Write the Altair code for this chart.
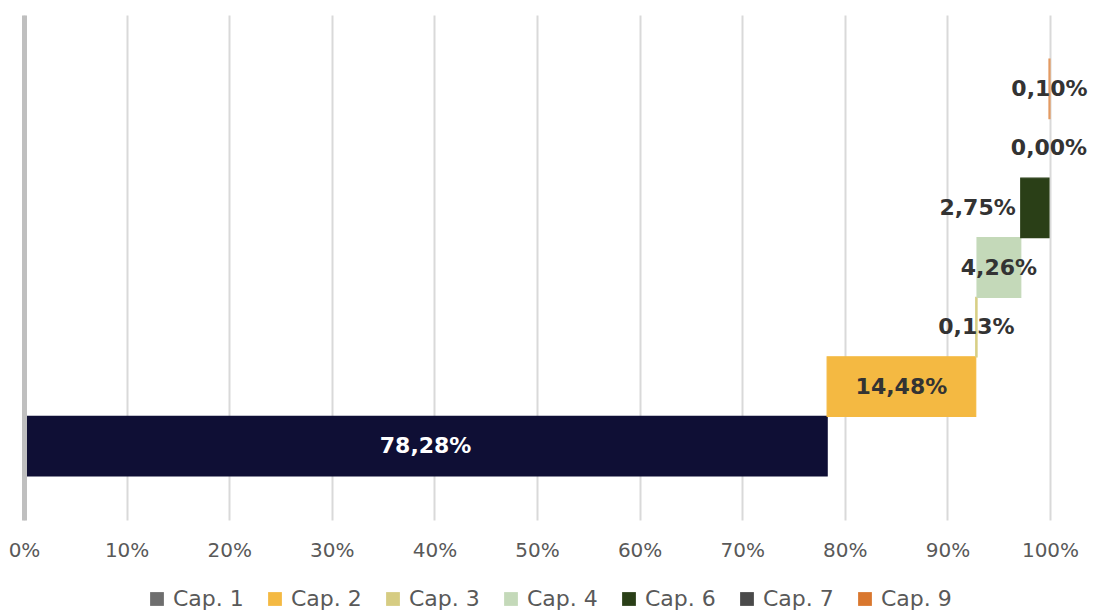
import altair as alt
import pandas as pd

categories = ["Cap. 1", "Cap. 2", "Cap. 3", "Cap. 4", "Cap. 6", "Cap. 7", "Cap. 9"]
values = [78.28, 14.48, 0.13, 4.26, 2.75, 0.00, 0.10]
bar_colors = ["#0F0F35", "#F4B942", "#D8CF86", "#C4D9B9", "#2A3F17", "#404040", "#E39A62"]
legend_colors = ["#6E6E6E", "#F4B942", "#D6CC82", "#C4D9B9", "#2A3F17", "#4A4A4A", "#D9772E"]
label_pos = ["center", "center", "center", "center", "left", "center", "center"]
label_colors = ["#FFFFFF", "#333333", "#333333", "#333333", "#333333", "#333333", "#333333"]
x_ticks = [0, 10, 20, 30, 40, 50, 60, 70, 80, 90, 100]

starts, ends = [], []
acc = 0.0
for v in values:
    starts.append(acc)
    acc += v
    ends.append(acc)

df = pd.DataFrame({
    "cat": categories,
    "value": values,
    "start": starts,
    "end": ends,
    "mid": [(s + e) / 2 for s, e in zip(starts, ends)],
    "label": [f"{v:.2f}".replace(".", ",") + "%" for v in values],
    "pos": label_pos,
    "tcolor": label_colors,
})

FONT = "DejaVu Sans"
order = list(reversed(categories))

xscale = alt.Scale(domain=[0, 100], nice=False, zero=True)
yscale = alt.Scale(domain=order, paddingInner=0, paddingOuter=0.74)

base = alt.Chart(df)

bars = base.mark_bar().encode(
    y=alt.Y("cat:N", scale=yscale, sort=order,
            axis=alt.Axis(title=None, labels=False, ticks=False, grid=False,
                          domain=True, domainColor="#BFBFBF", domainWidth=5, zindex=2)),
    x=alt.X("start:Q", scale=xscale,
            axis=alt.Axis(title=None, values=x_ticks, labelExpr="datum.value + '%'",
                          grid=True, gridColor="#D9D9D9", gridWidth=2,
                          domain=False, ticks=False, labelPadding=20, labelFlush=False,
                          labelFont=FONT, labelFontSize=20, labelColor="#595959")),
    x2="end:Q",
    color=alt.Color("cat:N", scale=alt.Scale(domain=categories, range=bar_colors), legend=None),
    stroke=alt.Color("cat:N", scale=alt.Scale(domain=categories, range=bar_colors), legend=None),
    strokeWidth=alt.condition(alt.datum.value > 0, alt.value(1.2), alt.value(0)),
)

text_center = base.transform_filter(alt.datum.pos == "center").mark_text(
    font=FONT, fontSize=22, fontWeight="bold", align="center", baseline="middle"
).encode(
    y=alt.Y("cat:N", scale=yscale, sort=order),
    x=alt.X("mid:Q", scale=xscale),
    text="label:N",
    color=alt.Color("tcolor:N", scale=None),
)

text_left = base.transform_filter(alt.datum.pos == "left").mark_text(
    font=FONT, fontSize=22, fontWeight="bold", align="right", baseline="middle", dx=-5
).encode(
    y=alt.Y("cat:N", scale=yscale, sort=order),
    x=alt.X("start:Q", scale=xscale),
    text="label:N",
    color=alt.Color("tcolor:N", scale=None),
)

legend_layer = base.mark_square(size=0).encode(
    x=alt.value(0),
    y=alt.value(0),
    color=alt.Color("cat:N", scale=alt.Scale(domain=categories, range=legend_colors),
                    legend=alt.Legend(title=None, orient="none", direction="horizontal",
                                      legendX=122, legendY=573, symbolType="square",
                                      symbolSize=190, symbolOpacity=1, symbolStrokeWidth=0,
                                      labelFont=FONT, labelFontSize=22, labelColor="#595959",
                                      labelOffset=5, columnPadding=20)),
)

chart = alt.layer(bars, text_center, text_left, legend_layer).resolve_scale(
    color="independent", stroke="independent"
).properties(
    width=1026, height=505,
    autosize=alt.AutoSizeParams(type="none"),
    padding={"left": 16, "top": 7, "right": 39, "bottom": 92},
).configure(background="white").configure_view(strokeWidth=0)

chart.save("out.html", embed_options={"renderer": "svg", "actions": False})
